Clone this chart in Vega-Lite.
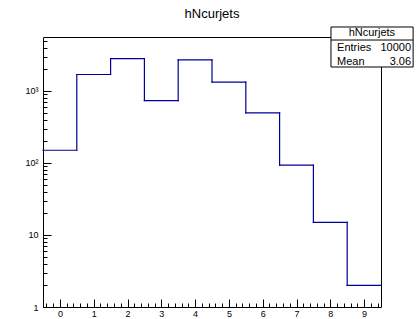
{
  "$schema": "https://vega.github.io/schema/vega-lite/v6.json",
  "width": 338,
  "height": 270,
  "autosize": "none",
  "padding": {"left": 43, "top": 37, "right": 35, "bottom": 12},
  "background": "white",
  "config": {
    "view": {"stroke": "#000000", "strokeWidth": 1},
    "font": "Liberation Sans",
    "axis": {
      "grid": false,
      "domain": false,
      "tickColor": "#000000",
      "tickWidth": 1,
      "labelColor": "#000000",
      "labelFont": "Liberation Sans",
      "labelFontSize": 9,
      "title": null
    }
  },
  "title": {
    "text": "hNcurjets",
    "font": "Liberation Sans",
    "fontSize": 13,
    "fontWeight": "normal",
    "color": "#000000",
    "offset": 5
  },
  "datasets": {
    "hist": [
      {"bin": 0, "lo": -0.5, "hi": 0.5, "count": 150},
      {"bin": 1, "lo": 0.5, "hi": 1.5, "count": 1690},
      {"bin": 2, "lo": 1.5, "hi": 2.5, "count": 2800},
      {"bin": 3, "lo": 2.5, "hi": 3.5, "count": 735},
      {"bin": 4, "lo": 3.5, "hi": 4.5, "count": 2700},
      {"bin": 5, "lo": 4.5, "hi": 5.5, "count": 1320},
      {"bin": 6, "lo": 5.5, "hi": 6.5, "count": 495},
      {"bin": 7, "lo": 6.5, "hi": 7.5, "count": 93},
      {"bin": 8, "lo": 7.5, "hi": 8.5, "count": 15},
      {"bin": 9, "lo": 8.5, "hi": 9.5, "count": 2}
    ],
    "stats": [
      {"name": "Entries", "value": "10000"},
      {"name": "Mean", "value": "3.06"}
    ]
  },
  "layer": [
    {
      "data": {"name": "hist"},
      "mark": {"type": "rule", "color": "#000099", "strokeWidth": 1.2, "strokeCap": "square"},
      "encoding": {
        "x": {
          "field": "lo", "type": "quantitative",
          "scale": {"domain": [-0.5, 9.5], "nice": false, "zero": false},
          "axis": {"orient": "bottom", "values": [0,1,2,3,4,5,6,7,8,9], "tickSize": -8, "labelPadding": 10}
        },
        "x2": {"field": "hi"},
        "y": {
          "field": "count", "type": "quantitative",
          "scale": {"type": "log", "domain": [1, 5600], "nice": false},
          "axis": {
            "orient": "left",
            "values": [1, 10, 100, 1000],
            "tickSize": -8,
            "labelPadding": 13,
            "labelExpr": "datum.value == 1000 ? '10³' : datum.value == 100 ? '10²' : datum.value == 10 ? '10' : '1'"
          }
        }
      }
    },
    {
      "data": {"name": "hist"},
      "transform": [
        {"window": [{"op": "lead", "field": "count", "as": "next"}], "sort": [{"field": "bin"}]},
        {"filter": "datum.next != null"}
      ],
      "mark": {"type": "rule", "color": "#000099", "strokeWidth": 1.2, "strokeCap": "square"},
      "encoding": {
        "x": {
          "field": "hi", "type": "quantitative",
          "axis": {"orient": "bottom", "labels": false, "tickSize": -4,
            "values": [-0.4,-0.2,0.2,0.4,0.6,0.8,1.2,1.4,1.6,1.8,2.2,2.4,2.6,2.8,3.2,3.4,3.6,3.8,4.2,4.4,4.6,4.8,5.2,5.4,5.6,5.8,6.2,6.4,6.6,6.8,7.2,7.4,7.6,7.8,8.2,8.4,8.6,8.8,9.2,9.4]}
        },
        "y": {
          "field": "count", "type": "quantitative",
          "axis": {"orient": "left", "labels": false, "tickSize": -4,
            "values": [2,3,4,5,6,7,8,9,20,30,40,50,60,70,80,90,200,300,400,500,600,700,800,900,2000,3000,4000,5000]}
        },
        "y2": {"field": "next"}
      }
    },
    {
      "data": {"values": [{"box": "stats"}]},
      "mark": {"type": "rect", "fill": "white", "stroke": "#000000", "strokeWidth": 1},
      "encoding": {
        "x": {"datum": 8.02, "type": "quantitative", "axis": null},
        "x2": {"datum": 10.45},
        "y": {"datum": 7710, "type": "quantitative", "axis": null},
        "y2": {"datum": 2146}
      }
    },
    {
      "data": {"values": [{"box": "stats"}]},
      "mark": {"type": "rule", "color": "#000000", "strokeWidth": 1},
      "encoding": {
        "x": {"datum": 8.02, "type": "quantitative", "axis": null},
        "x2": {"datum": 10.45},
        "y": {"datum": 5085, "type": "quantitative", "axis": null}
      }
    },
    {
      "data": {"values": [{"title": "hNcurjets"}]},
      "mark": {"type": "text", "font": "Liberation Sans", "fontSize": 11, "color": "#000000", "align": "center", "baseline": "middle"},
      "encoding": {
        "x": {"datum": 9.23, "type": "quantitative", "axis": null},
        "y": {"datum": 6265, "type": "quantitative", "axis": null},
        "text": {"field": "title"}
      }
    },
    {
      "data": {"name": "stats"},
      "transform": [{"filter": "datum.name == 'Entries'"}],
      "layer": [
        {
          "mark": {"type": "text", "font": "Liberation Sans", "fontSize": 11, "color": "#000000", "align": "left", "baseline": "middle"},
          "encoding": {
            "x": {"datum": 8.2, "type": "quantitative", "axis": null},
            "y": {"datum": 3940, "type": "quantitative", "axis": null},
            "text": {"field": "name"}
          }
        },
        {
          "mark": {"type": "text", "font": "Liberation Sans", "fontSize": 11, "color": "#000000", "align": "right", "baseline": "middle"},
          "encoding": {
            "x": {"datum": 10.39, "type": "quantitative", "axis": null},
            "y": {"datum": 3940, "type": "quantitative", "axis": null},
            "text": {"field": "value"}
          }
        }
      ]
    },
    {
      "data": {"name": "stats"},
      "transform": [{"filter": "datum.name == 'Mean'"}],
      "layer": [
        {
          "mark": {"type": "text", "font": "Liberation Sans", "fontSize": 11, "color": "#000000", "align": "left", "baseline": "middle"},
          "encoding": {
            "x": {"datum": 8.2, "type": "quantitative", "axis": null},
            "y": {"datum": 2494, "type": "quantitative", "axis": null},
            "text": {"field": "name"}
          }
        },
        {
          "mark": {"type": "text", "font": "Liberation Sans", "fontSize": 11, "color": "#000000", "align": "right", "baseline": "middle"},
          "encoding": {
            "x": {"datum": 10.39, "type": "quantitative", "axis": null},
            "y": {"datum": 2494, "type": "quantitative", "axis": null},
            "text": {"field": "value"}
          }
        }
      ]
    }
  ],
  "resolve": {"axis": {"x": "independent", "y": "independent"}}
}
